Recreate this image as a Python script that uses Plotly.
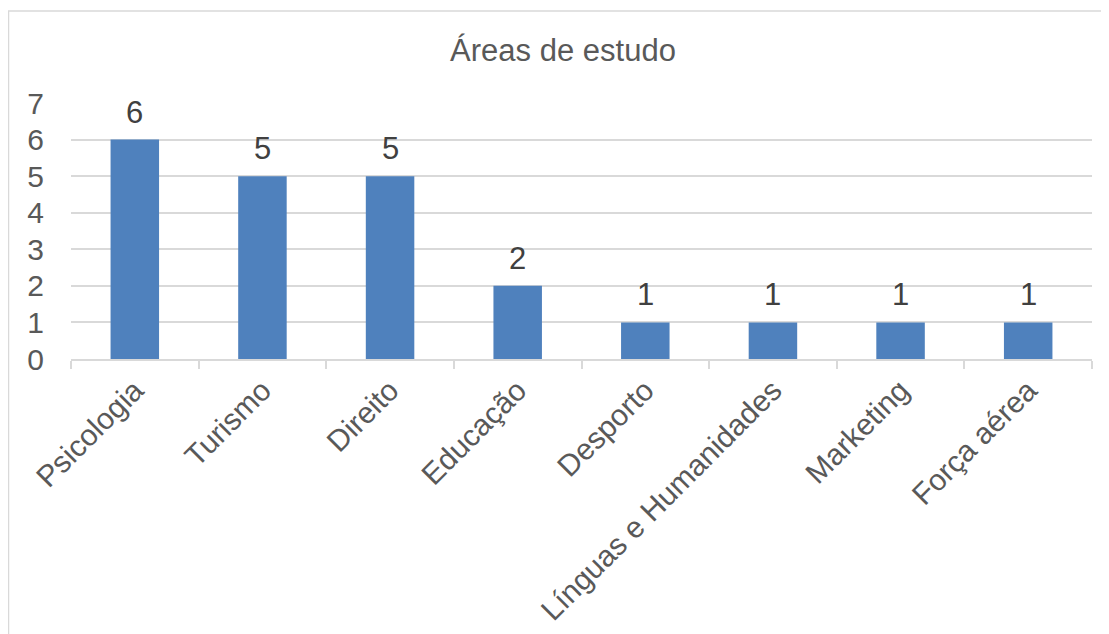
import plotly.graph_objects as go

categories = ["Psicologia", "Turismo", "Direito", "Educação", "Desporto",
              "Línguas e Humanidades", "Marketing", "Força aérea"]
values = [6, 5, 5, 2, 1, 1, 1, 1]
y_ticks = [0, 1, 2, 3, 4, 5, 6, 7]
title_text = "Áreas de estudo"

W, H = 1109, 634
OFF = 8  # page body margin
L, R, T, B = 71 - OFF, 17 + OFF, 103 - OFF, 275 + OFF
pw, ph = W - L - R, H - T - B

FONT = "Liberation Sans, Arial, sans-serif"
GRID = "#d9d9d9"

fig = go.Figure(go.Bar(
    x=categories, y=values,
    marker=dict(color="#4F81BD", line=dict(width=0)),
    hoverinfo="x+y",
))

for c, v in zip(categories, values):
    fig.add_annotation(x=c, y=v, text=str(v), showarrow=False,
                       yanchor="bottom", yshift=8,
                       font=dict(family=FONT, size=31, color="#404040"))

fig.update_layout(
    width=W, height=H,
    margin=dict(l=L, r=R, t=T, b=B, autoexpand=False),
    paper_bgcolor="white", plot_bgcolor="white",
    bargap=0.62,
    showlegend=False,
    title=dict(text=title_text, x=(563 - OFF) / W, xanchor="center", xref="container",
               y=1 - (50 - OFF) / H, yanchor="middle", yref="container",
               font=dict(family=FONT, size=31, color="#595959")),
    font=dict(family=FONT, color="#595959"),
    xaxis=dict(
        type="category",
        automargin=False,
        tickangle=-45,
        tickfont=dict(family=FONT, size=30, color="#595959"),
        showline=True, linecolor=GRID, linewidth=1.5,
        ticks="outside", tickson="boundaries", ticklen=8, tickcolor=GRID, tickwidth=1.5,
        showgrid=False,
    ),
    yaxis=dict(
        range=[0, 7],
        automargin=False,
        tickvals=y_ticks,
        tickfont=dict(family=FONT, size=30, color="#595959"),
        showgrid=True, gridcolor=GRID, gridwidth=1.5,
        zeroline=False, showline=False, ticks="",
        ticklabelstandoff=26,
    ),
    shapes=[dict(
        type="rect", xref="paper", yref="paper",
        x0=(0.5 - L) / pw, x1=(W + 10 - L) / pw,
        y0=(H - B - (H + 10)) / ph, y1=(H - B - 3) / ph,
        line=dict(color="#d9d9d9", width=1.5), fillcolor="rgba(0,0,0,0)",
        layer="below",
    )],
)

fig.write_html("out.html")
